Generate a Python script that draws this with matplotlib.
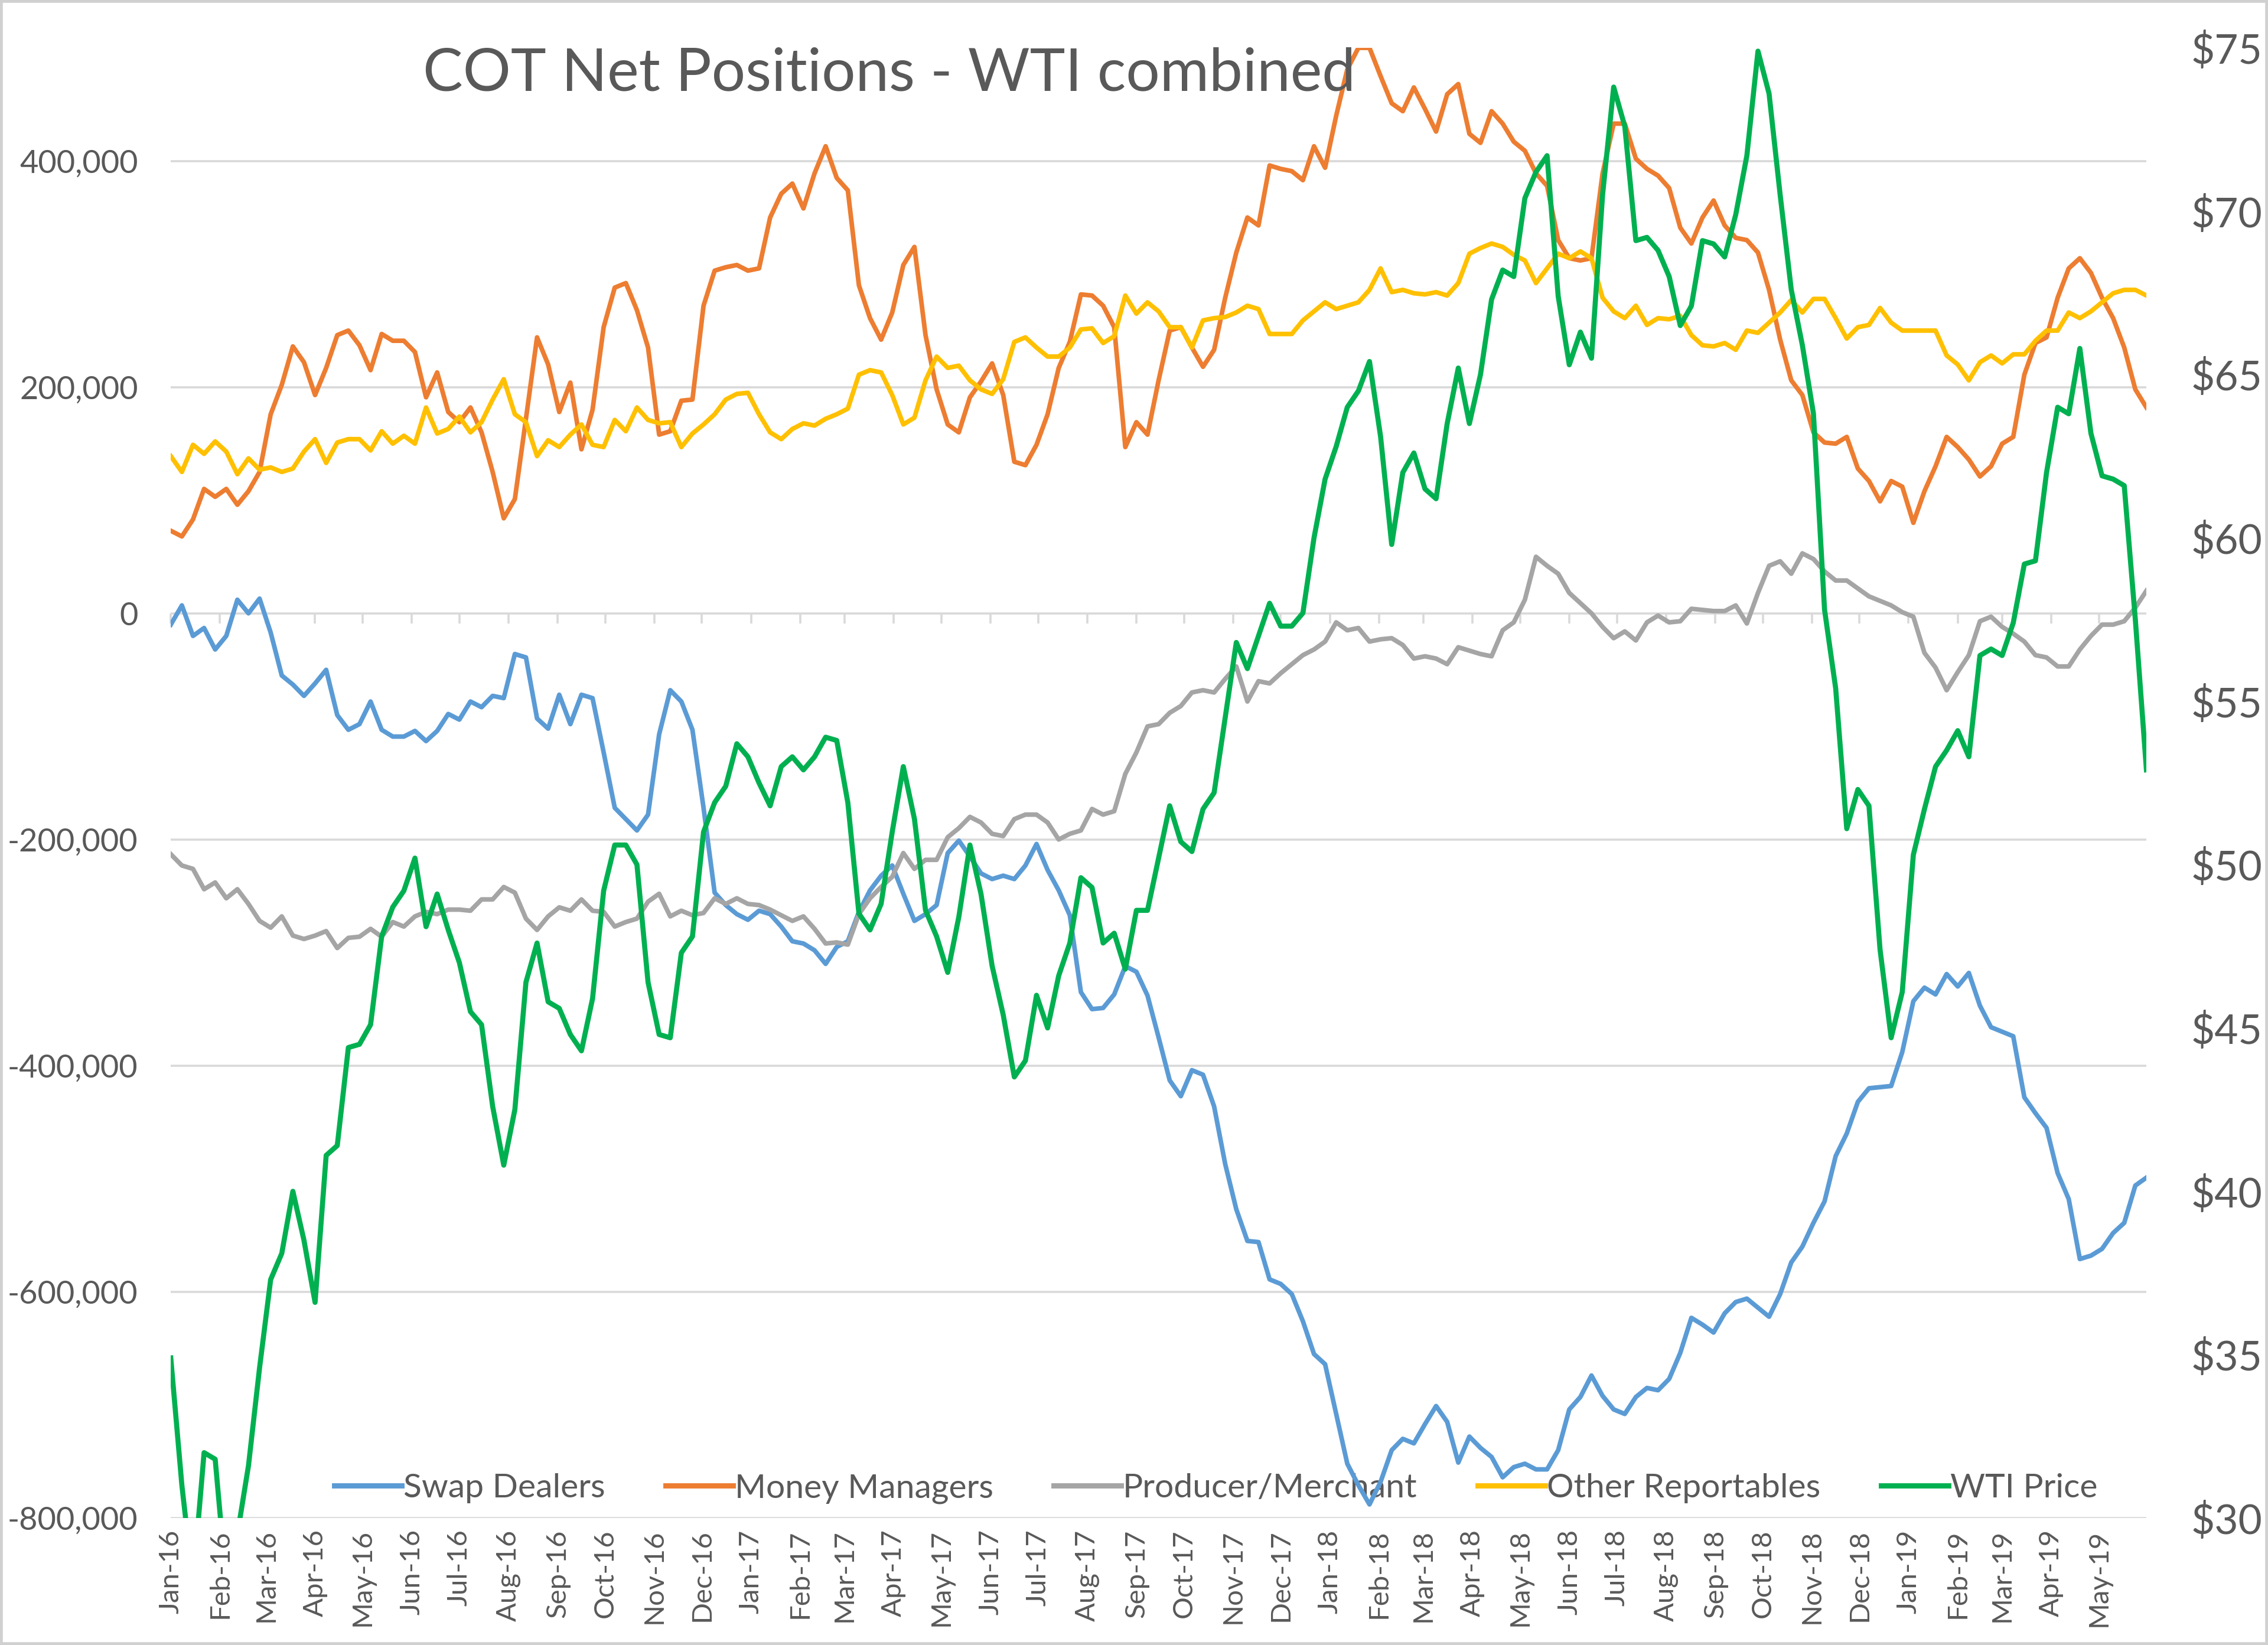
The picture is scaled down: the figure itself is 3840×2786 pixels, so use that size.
import matplotlib
matplotlib.use("Agg")
import matplotlib.pyplot as plt
import matplotlib.dates as mdates
from matplotlib.ticker import FuncFormatter
from matplotlib.patches import Rectangle
import numpy as np
import pandas as pd

# weekly COT report dates (Tuesdays), Jan-2016 .. Jun-2019
weeks = pd.date_range("2016-01-05", periods=179, freq="7D")
# Excel puts the month labels on the 5th (axis starts on Jan 5)
month_ticks = pd.date_range("2016-01-01", "2019-05-01", freq="MS") + pd.Timedelta(days=4)

series_names = ["Swap Dealers", "Money Managers", "Producer/Merchant",
                "Other Reportables", "WTI Price"]
series_colors = ["#5B9BD5", "#ED7D31", "#A5A5A5", "#FFC000", "#00B050"]

# net positions, thousands of contracts
swap_dealers = [-10, 7, -20, -13, -32, -20, 12, 0, 13, -17,
                -55, -63, -73, -62, -50, -90, -103, -98, -78, -103,
                -109, -109, -104, -113, -104, -89, -94, -78, -83, -73,
                -75, -36, -39, -93, -102, -72, -98, -72, -75, -123,
                -172, -182, -192, -178, -107, -68, -78, -103, -172, -247,
                -258, -266, -271, -263, -266, -277, -290, -292, -298, -310,
                -295, -290, -264, -245, -232, -223, -248, -272, -266, -258,
                -212, -201, -215, -230, -235, -232, -235, -223, -204, -227,
                -245, -267, -335, -350, -349, -337, -312, -317, -338, -375,
                -413, -427, -404, -408, -436, -487, -527, -555, -556, -589,
                -593, -602, -626, -655, -664, -708, -752, -771, -788, -768,
                -740, -730, -734, -717, -701, -715, -751, -728, -738, -746,
                -764, -755, -752, -757, -757, -740, -704, -693, -674, -692,
                -704, -708, -693, -685, -687, -677, -654, -623, -629, -636,
                -619, -609, -606, -614, -622, -602, -574, -560, -539, -520,
                -480, -460, -432, -420, -419, -418, -388, -343, -331, -337,
                -319, -330, -318, -347, -366, -370, -374, -428, -442, -455,
                -495, -518, -571, -568, -562, -548, -539, -506, -499]

money_managers = [73, 68, 83, 110, 103, 110, 96, 108, 125, 176,
                  202, 236, 222, 193, 217, 246, 250, 237, 215, 247,
                  241, 241, 231, 191, 213, 178, 169, 182, 160, 125,
                  84, 101, 172, 244, 220, 178, 204, 145, 180, 253,
                  288, 292, 268, 235, 158, 161, 188, 189, 272, 303,
                  306, 308, 303, 305, 350, 371, 380, 358, 389, 413,
                  385, 374, 290, 261, 242, 266, 308, 324, 246, 198,
                  167, 160, 191, 205, 221, 193, 134, 131, 149, 176,
                  217, 240, 282, 281, 272, 253, 147, 169, 158, 206,
                  250, 253, 235, 218, 233, 279, 319, 350, 343, 396,
                  393, 391, 383, 413, 394, 440, 481, 500, 500, 475,
                  451, 444, 465, 446, 426, 459, 468, 424, 416, 444,
                  433, 417, 409, 389, 378, 330, 314, 312, 314, 389,
                  433, 433, 402, 393, 387, 376, 341, 327, 350, 365,
                  343, 332, 330, 319, 286, 242, 206, 193, 160, 151,
                  150, 156, 128, 117, 99, 117, 112, 80, 108, 130,
                  156, 147, 136, 121, 130, 150, 156, 211, 239, 244,
                  279, 305, 314, 301, 279, 261, 235, 198, 182]

producer_merchant = [-213, -223, -226, -244, -238, -252, -244, -257, -272, -278,
                     -268, -285, -288, -285, -281, -296, -287, -286, -279, -286,
                     -273, -277, -268, -264, -266, -262, -262, -263, -253, -253,
                     -242, -247, -270, -280, -268, -260, -263, -253, -263, -264,
                     -277, -273, -270, -255, -248, -268, -263, -267, -265, -252,
                     -257, -252, -257, -258, -262, -267, -272, -268, -279, -292,
                     -291, -293, -266, -252, -242, -233, -212, -226, -218, -218,
                     -198, -190, -180, -185, -195, -197, -182, -178, -178, -185,
                     -200, -195, -192, -173, -178, -175, -142, -123, -100, -98,
                     -88, -82, -70, -68, -70, -58, -47, -78, -60, -62,
                     -53, -45, -37, -32, -25, -8, -15, -13, -25, -23,
                     -22, -28, -40, -38, -40, -45, -30, -33, -36, -38,
                     -15, -8, 12, 50, 42, 35, 18, 9, 0, -12,
                     -22, -16, -24, -8, -2, -8, -7, 4, 3, 2,
                     2, 7, -9, 18, 42, 46, 35, 53, 48, 37,
                     29, 29, 22, 15, 11, 7, 1, -3, -35, -48,
                     -68, -52, -37, -7, -3, -12, -18, -25, -37, -39,
                     -47, -47, -32, -20, -10, -10, -7, 5, 20]

other_reportables = [139, 125, 149, 141, 152, 143, 123, 137, 127, 129,
                     125, 128, 143, 154, 133, 151, 154, 154, 144, 161,
                     150, 157, 150, 182, 159, 163, 174, 160, 169, 189,
                     207, 176, 169, 139, 153, 147, 158, 167, 149, 147,
                     171, 161, 182, 171, 168, 169, 147, 159, 167, 176,
                     189, 194, 195, 176, 160, 154, 163, 168, 166, 172,
                     176, 181, 211, 215, 213, 193, 167, 173, 206, 227,
                     217, 219, 206, 198, 194, 207, 240, 244, 235, 227,
                     227, 235, 251, 252, 239, 245, 281, 265, 275, 267,
                     253, 253, 235, 259, 261, 262, 266, 272, 269, 247,
                     247, 247, 259, 267, 275, 269, 272, 275, 286, 305,
                     284, 286, 283, 282, 284, 281, 292, 318, 323, 327,
                     324, 317, 312, 292, 305, 318, 314, 320, 314, 279,
                     267, 261, 272, 255, 261, 260, 263, 246, 237, 236,
                     239, 233, 250, 248, 257, 266, 277, 266, 278, 278,
                     261, 243, 253, 255, 270, 257, 250, 250, 250, 250,
                     228, 220, 206, 222, 228, 221, 229, 229, 241, 250,
                     250, 266, 261, 267, 275, 283, 286, 286, 281]

# WTI price, $/bbl (right axis)
wti_price = [34.9, 31.0, 28.0, 32.0, 31.8, 28.0, 29.5, 31.6, 34.6, 37.3,
             38.1, 40.0, 38.5, 36.6, 41.1, 41.4, 44.4, 44.5, 45.1, 47.8,
             48.7, 49.2, 50.2, 48.1, 49.1, 48.0, 47.0, 45.5, 45.1, 42.6,
             40.8, 42.5, 46.4, 47.6, 45.8, 45.6, 44.8, 44.3, 45.9, 49.2,
             50.6, 50.6, 50.0, 46.4, 44.8, 44.7, 47.3, 47.8, 51.0, 51.9,
             52.4, 53.7, 53.3, 52.5, 51.8, 53.0, 53.3, 52.9, 53.3, 53.9,
             53.8, 51.9, 48.5, 48.0, 48.8, 51.0, 53.0, 51.4, 48.6, 47.8,
             46.7, 48.4, 50.6, 49.1, 46.9, 45.4, 43.5, 44.0, 46.0, 45.0,
             46.6, 47.6, 49.6, 49.3, 47.6, 47.9, 46.8, 48.6, 48.6, 50.2,
             51.8, 50.7, 50.4, 51.7, 52.2, 54.5, 56.8, 56.0, 57.0, 58.0,
             57.3, 57.3, 57.7, 60.0, 61.8, 62.8, 64.0, 64.5, 65.4, 63.1,
             59.8, 62.0, 62.6, 61.5, 61.2, 63.5, 65.2, 63.5, 65.0, 67.3,
             68.2, 68.0, 70.4, 71.2, 71.7, 67.4, 65.3, 66.3, 65.5, 70.5,
             73.8, 72.6, 69.1, 69.2, 68.8, 68.0, 66.5, 67.1, 69.1, 69.0,
             68.6, 69.9, 71.7, 74.9, 73.6, 70.5, 67.6, 65.9, 63.8, 57.8,
             55.4, 51.1, 52.3, 51.8, 47.4, 44.7, 46.1, 50.3, 51.7, 53.0,
             53.5, 54.1, 53.3, 56.4, 56.6, 56.4, 57.4, 59.2, 59.3, 62.0,
             64.0, 63.8, 65.8, 63.2, 61.9, 61.8, 61.6, 57.5, 52.9]

left_ticks = list(range(-800000, 400001, 200000))
right_ticks = list(range(30, 76, 5))

text_col = "#595959"
grid_col = "#D9D9D9"

plt.rcParams["font.family"] = ["Lato", "DejaVu Sans"]

fig = plt.figure(figsize=(19.2, 13.93), dpi=200)
ax = fig.add_axes([0.0753, 0.0772, 0.8711, 0.8937])
ax2 = ax.twinx()

# positions series on the left axis
handles = []
for vals, name, col in zip([swap_dealers, money_managers, producer_merchant, other_reportables],
                           series_names[:4], series_colors[:4]):
    h, = ax.plot(weeks, np.array(vals) * 1000, color=col, lw=2.8,
                 solid_joinstyle="round", label=name)
    handles.append(h)

# price on the right axis
h, = ax2.plot(weeks, wti_price, color=series_colors[4], lw=3.1,
              solid_joinstyle="round", label=series_names[4])
handles.append(h)

ax.set_ylim(-800000, 500000)
ax.set_yticks(left_ticks)
ax.yaxis.set_major_formatter(FuncFormatter(lambda v, _: f"{v:,.0f}"))
ax.grid(axis="y", color=grid_col, lw=1.3)
ax.set_axisbelow(True)

ax.set_xlim(weeks[0], weeks[-1])
ax.set_xticks(month_ticks)
ax.xaxis.set_major_formatter(mdates.DateFormatter("%b-%y"))
ax.tick_params(axis="x", length=0, labelrotation=90, labelsize=17, pad=7, labelcolor=text_col)
ax.tick_params(axis="y", length=0, labelsize=19.5, pad=20, labelcolor=text_col)

ax2.set_ylim(30, 75)
ax2.set_yticks(right_ticks)
ax2.yaxis.set_major_formatter(FuncFormatter(lambda v, _: f"${v:.0f}"))
ax2.tick_params(axis="y", length=0, labelsize=25, pad=27, labelcolor=text_col)

for a in (ax, ax2):
    for s in a.spines.values():
        s.set_visible(False)

# category axis crosses at zero: small tick marks hanging under the 0 line
ymin, ymax = ax.get_ylim()
zero_axis = ax.secondary_xaxis((0 - ymin) / (ymax - ymin))
zero_axis.set_xticks(month_ticks)
zero_axis.tick_params(axis="x", direction="in", length=6, width=1.3, color=grid_col,
                      labeltop=False, labelbottom=False)
for s in zero_axis.spines.values():
    s.set_visible(False)

leg = ax.legend(handles, series_names, loc="center", bbox_to_anchor=(0.529, 0.02),
                ncol=5, frameon=False, fontsize=20.5, handlelength=2.0,
                handletextpad=0.05, columnspacing=1.8, labelcolor=text_col)
leg.set_zorder(1)
for line in leg.get_lines():
    line.set_linewidth(3.2)

fig.text(0.392, 0.955, "COT Net Positions - WTI combined", ha="center", va="center",
         fontsize=36.5, color=text_col)

fig.add_artist(Rectangle((0.0006, 0.0008), 0.9988, 0.9984, transform=fig.transFigure,
                         fill=False, edgecolor="#D0D0D0", lw=2))

fig.savefig("out.png", dpi=200)
